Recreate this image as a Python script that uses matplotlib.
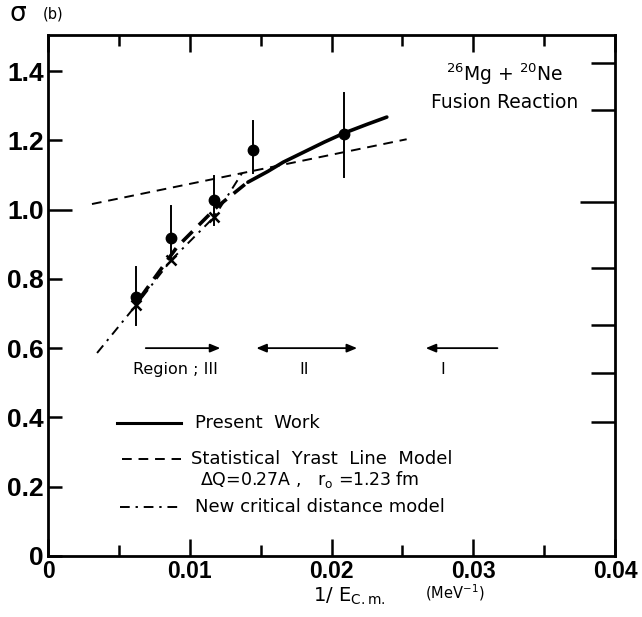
import numpy as np
import matplotlib
matplotlib.use("Agg")
import matplotlib.pyplot as plt

# measured cross sections (b) vs 1/Ecm (MeV^-1)
data_x = [0.00621, 0.00868, 0.01171, 0.01446, 0.02088]
data_y = [0.747, 0.918, 1.027, 1.172, 1.218]
err_lo = [0.667, 0.854, 0.955, 1.105, 1.094]
err_hi = [0.834, 1.010, 1.097, 1.255, 1.336]

# new critical distance model points (crosses)
cross_x = [0.00621, 0.00868, 0.01171]
cross_y = [0.724, 0.854, 0.978]

# present work: solid part and heavy dashed extension
solid_x = [0.0141, 0.0155, 0.0166, 0.0180, 0.0195, 0.0209, 0.0225, 0.0239]
solid_y = [1.079, 1.110, 1.137, 1.165, 1.195, 1.221, 1.246, 1.267]
heavy_x = [0.0065, 0.0091, 0.0119, 0.0142]
heavy_y = [0.745, 0.892, 1.007, 1.083]

# statistical yrast line model
yrast_x = [0.0031, 0.0253]
yrast_y = [1.016, 1.203]

# new critical distance model line
crit_x = [0.00346, 0.00621, 0.00868, 0.01171, 0.0137]
crit_y = [0.586, 0.724, 0.854, 0.978, 1.106]

# unlabeled ticks on the right axis
right_ticks = [1.423, 1.287, 0.831, 0.667, 0.528, 0.387]
right_long = 1.022

xticks = [0, 0.01, 0.02, 0.03, 0.04]
xtick_labels = ["0", "0.01", "0.02", "0.03", "0.04"]
yticks = [0, 0.2, 0.4, 0.6, 0.8, 1.0, 1.2, 1.4]
ytick_labels = ["0", "0.2", "0.4", "0.6", "0.8", "1.0", "1.2", "1.4"]

xtick_font = dict(family="Liberation Sans", weight="bold", size=16.5)
ytick_font = dict(family="Liberation Sans", weight="bold", size=19)
text_font = ["DejaVu Sans"]

fig = plt.figure(figsize=(6.42, 6.17), dpi=100)
ax = fig.add_axes([0.0748, 0.0989, 0.958 - 0.0748, 0.9433 - 0.0989])
ax.set_xlim(0, 0.04)
ax.set_ylim(0, 1.504)

# curves
ax.plot(yrast_x, yrast_y, color="black", lw=1.4, dashes=(5, 3.5))
ax.plot(crit_x, crit_y, color="black", lw=1.4, dashes=(5, 3, 1.2, 3))
ax.plot(heavy_x, heavy_y, color="black", lw=2.6, dashes=(4, 2.5))
ax.plot(solid_x, solid_y, color="black", lw=2.6, solid_capstyle="round")

# data
for x, lo, hi in zip(data_x, err_lo, err_hi):
    ax.plot([x, x], [lo, hi], color="black", lw=1.4)
ax.plot(data_x, data_y, "o", color="black", ms=7.5)
ax.plot(cross_x, cross_y, "x", color="black", ms=7, mew=1.8)

# region arrows
arrow_kw = dict(arrowstyle="-|>,head_length=0.6,head_width=0.25", color="black", lw=1.3)
ax.annotate("", xy=(0.01235, 0.60), xytext=(0.0067, 0.60), arrowprops=arrow_kw)
ax.annotate("", xy=(0.0220, 0.60), xytext=(0.0145, 0.60),
            arrowprops=dict(arrowstyle="<|-|>,head_length=0.6,head_width=0.25", color="black", lw=1.3))
ax.annotate("", xy=(0.02645, 0.60), xytext=(0.0319, 0.60), arrowprops=arrow_kw)
ax.text(0.00896, 0.537, "Region ; III", ha="center", va="center", fontsize=11.5, family=text_font)
ax.text(0.01806, 0.537, "II", ha="center", va="center", fontsize=11.5, family=text_font)
ax.text(0.02787, 0.537, "I", ha="center", va="center", fontsize=11.5, family=text_font)

# hand-made legend
ax.plot([0.0049, 0.0094], [0.384, 0.384], color="black", lw=2.2)
ax.text(0.0104, 0.384, "Present  Work", va="center", fontsize=13, family=text_font)
ax.plot([0.0052, 0.0094], [0.280, 0.280], color="black", lw=1.4, dashes=(5, 3.5))
ax.text(0.0101, 0.280, "Statistical  Yrast  Line  Model", va="center", fontsize=13, family=text_font)
ax.text(0.0107, 0.222, r"$\Delta$Q=0.27A ,   r$_\mathsf{o}$ =1.23 fm", va="center",
        fontsize=12.5, family=text_font)
ax.plot([0.0051, 0.0094], [0.142, 0.142], color="black", lw=1.4, dashes=(5, 3, 1.2, 3))
ax.text(0.0104, 0.142, "New critical distance model", va="center", fontsize=13, family=text_font)

# reaction label
ax.text(0.0322, 1.392, r"$^{26}$Mg + $^{20}$Ne", ha="center", va="center", fontsize=13.5, family=text_font)
ax.text(0.0322, 1.310, "Fusion Reaction", ha="center", va="center", fontsize=13.5, family=text_font)

# ticks
ax.set_xticks(xticks)
ax.set_xticklabels(xtick_labels, fontdict=xtick_font)
ax.set_xticks([0.005, 0.015, 0.025, 0.035], minor=True)
ax.set_yticks(yticks)
ax.set_yticklabels(ytick_labels, fontdict=ytick_font)
ax.tick_params(axis="x", which="major", direction="in", length=12, width=1.8, top=True, pad=3)
ax.tick_params(axis="x", which="minor", direction="in", length=8, width=1.8, top=True)
ax.tick_params(axis="y", which="major", direction="in", length=10, width=1.8, right=False, pad=3)
ax.yaxis.get_major_ticks()[5].tick1line.set_markersize(17)

for yv in right_ticks:
    ax.plot([0.0383, 0.04], [yv, yv], color="black", lw=1.8, solid_capstyle="butt", clip_on=False)
ax.plot([0.0375, 0.04], [right_long, right_long], color="black", lw=1.8, solid_capstyle="butt")

for spine in ax.spines.values():
    spine.set_linewidth(2.0)

# axis titles
fig.text(0.015, 0.978, "σ", fontsize=19, va="center", ha="left", family=text_font)
fig.text(0.066, 0.978, "(b)", fontsize=10.5, va="center", ha="left", family=text_font)
fig.text(0.488, 0.034, r"1/ E$_\mathsf{C.m.}$", fontsize=14, ha="left", va="center", family=text_font)
fig.text(0.662, 0.040, r"(MeV$^\mathsf{-1}$)", fontsize=10.5, ha="left", va="center", family=text_font)

fig.savefig("out.png", dpi=100)
